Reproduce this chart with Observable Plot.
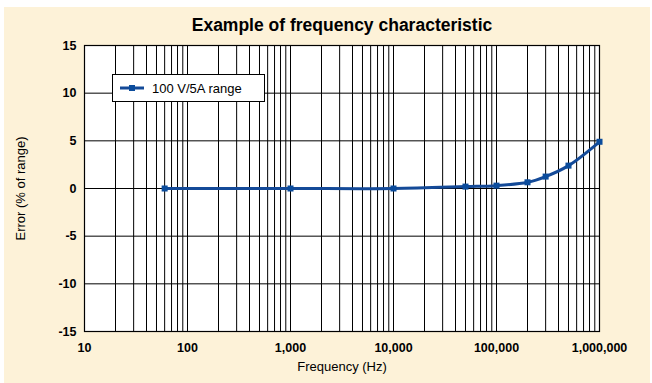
<!DOCTYPE html>
<html>
<head>
<meta charset="utf-8">
<script src="https://cdn.jsdelivr.net/npm/d3@7"></script>
<script src="https://cdn.jsdelivr.net/npm/@observablehq/plot@0.6"></script>
<style>
  html, body { margin: 0; padding: 0; background: #ffffff; }
  #wrap { position: relative; width: 652px; height: 383px; overflow: hidden; background: #ffffff; font-family: "Liberation Sans", Arial, sans-serif; }
  #bg { position: absolute; left: 4px; top: 7px; width: 646px; height: 376px; background: #fdf2d8; }
  #chart { position: absolute; left: 0; top: 0; }
  #legend { position: absolute; left: 112px; top: 74px; width: 151px; height: 26px; background: #ffffff; border: 1px solid #000; box-sizing: content-box; display: flex; align-items: center; font-size: 13px; color: #000; }
  #legend svg { margin-left: 7px; margin-right: 8px; }
</style>
</head>
<body>
<div id="wrap">
  <div id="bg"></div>
  <div id="chart"></div>
  <div id="legend"></div>
</div>
<script>
const title = "Example of frequency characteristic";
const xLabel = "Frequency (Hz)";
const yLabel = "Error (% of range)";
const seriesName = "100 V/5A range";
const freq = [60, 1000, 10000, 50000, 100000, 200000, 300000, 500000, 1000000];
const error = [0, 0, 0, 0.2, 0.3, 0.65, 1.25, 2.4, 4.9];
const yTicks = [-15, -10, -5, 0, 5, 10, 15];
const xTicks = [10, 100, 1000, 10000, 100000, 1000000];

const lineColor = "#144a98";
const data = freq.map((f, i) => ({f, e: error[i]}));
const minor = [];
for (let k = 1; k <= 5; k++) for (let m = 1; m <= 9; m++) minor.push(m * Math.pow(10, k));
minor.push(1000000);

const chart = Plot.plot({
  width: 652,
  height: 383,
  marginLeft: 84,
  marginRight: 53,
  marginTop: 45,
  marginBottom: 52,
  style: {fontFamily: "'Liberation Sans', Arial, sans-serif", fontSize: "12px", background: "transparent", color: "#000", overflow: "visible"},
  x: {type: "log", domain: [10, 1000000]},
  y: {domain: [-15, 15]},
  marks: [
    Plot.frame({fill: "#ffffff", stroke: null}),
    Plot.ruleX(minor, {stroke: "#000", strokeWidth: 1}),
    Plot.ruleY(yTicks, {stroke: "#000", strokeWidth: 1}),
    Plot.frame({stroke: "#000", strokeWidth: 1.2}),
    Plot.axisX(xTicks, {tickSize: 0, tickPadding: 12, tickFormat: d3.format(","), fontWeight: "bold", fontSize: 12.5, label: null}),
    Plot.axisY(yTicks, {tickSize: 0, tickPadding: 8, tickFormat: d => String(d), fontWeight: "bold", fontSize: 12.5, label: null}),
    Plot.line(data, {x: "f", y: "e", stroke: lineColor, strokeWidth: 3, curve: "catmull-rom"}),
    Plot.dot(data, {x: "f", y: "e", symbol: "square", r: 3.4, fill: "#0b4c9c", stroke: null}),
    Plot.text([title], {frameAnchor: "top", dy: -20, textAnchor: "middle", lineAnchor: "middle", fontSize: 17.5, fontWeight: "bold"}),
    Plot.text([xLabel], {frameAnchor: "bottom", dy: 35, textAnchor: "middle", lineAnchor: "middle", fontSize: 13}),
    Plot.text([yLabel], {frameAnchor: "left", dx: -64, rotate: -90, textAnchor: "middle", lineAnchor: "middle", fontSize: 13})
  ]
});
document.getElementById("chart").appendChild(chart);

const legend = document.getElementById("legend");
legend.innerHTML = `<svg width="24" height="10"><line x1="0" x2="24" y1="5" y2="5" stroke="${lineColor}" stroke-width="3"/><rect x="9" y="2" width="6" height="6" fill="#0b4c9c"/></svg><span>${seriesName}</span>`;
</script>
</body>
</html>
